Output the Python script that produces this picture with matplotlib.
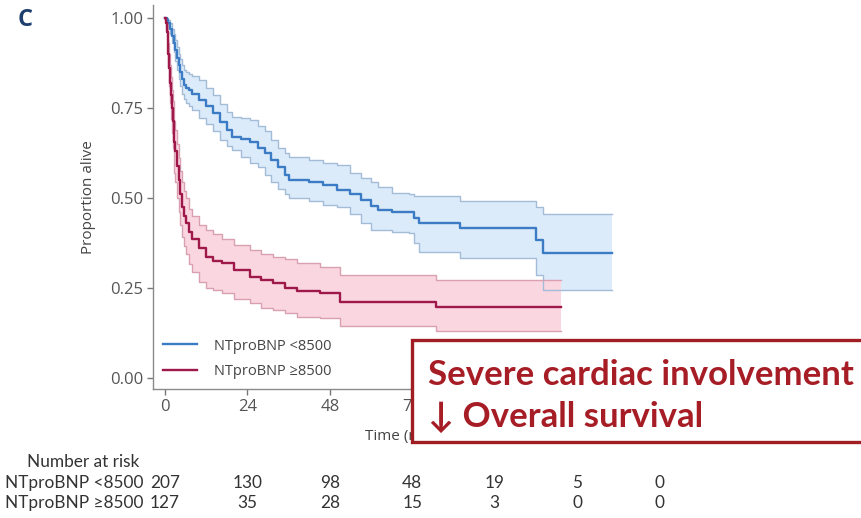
import matplotlib
matplotlib.use("Agg")
import matplotlib.pyplot as plt
from matplotlib.patches import Rectangle

# Kaplan-Meier estimates (months, proportion alive) with 95% CI bounds
low_time = [0, 0.5, 1, 1.5, 2, 2.5, 3, 3.5, 4, 4.5, 5, 5.5, 6, 7, 8, 10, 12, 14, 16, 18, 19.5,
            22, 24.7, 27, 29, 31, 33, 35, 36, 42, 46, 50, 54, 57, 60, 62, 66, 71, 72.5, 74,
            86, 108, 110, 130.3]
low_est = [1.0, 0.995, 0.985, 0.97, 0.95, 0.93, 0.91, 0.89, 0.87, 0.85, 0.83, 0.815, 0.805,
           0.80, 0.79, 0.772, 0.755, 0.735, 0.71, 0.69, 0.67, 0.664, 0.656, 0.64, 0.625,
           0.606, 0.585, 0.565, 0.55, 0.545, 0.535, 0.522, 0.51, 0.494, 0.478, 0.467, 0.462,
           0.462, 0.445, 0.43, 0.416, 0.383, 0.348, 0.348]
low_lo = [1.0, 0.99, 0.975, 0.955, 0.93, 0.905, 0.88, 0.855, 0.83, 0.81, 0.79, 0.775, 0.765,
          0.755, 0.745, 0.722, 0.705, 0.685, 0.66, 0.645, 0.633, 0.615, 0.597, 0.585, 0.565,
          0.545, 0.525, 0.51, 0.50, 0.49, 0.48, 0.476, 0.455, 0.43, 0.411, 0.41, 0.405,
          0.402, 0.375, 0.351, 0.332, 0.286, 0.244, 0.244]
low_hi = [1.0, 1.0, 0.995, 0.985, 0.97, 0.955, 0.94, 0.92, 0.90, 0.885, 0.868, 0.856, 0.85,
          0.845, 0.84, 0.828, 0.805, 0.785, 0.76, 0.74, 0.726, 0.722, 0.717, 0.70, 0.685,
          0.661, 0.64, 0.625, 0.615, 0.605, 0.598, 0.592, 0.57, 0.555, 0.545, 0.53, 0.515,
          0.51, 0.505, 0.504, 0.49, 0.475, 0.455, 0.455]

high_time = [0, 0.25, 0.5, 0.75, 1, 1.25, 1.5, 1.75, 2, 2.25, 2.5, 2.75, 3, 3.5, 4, 4.5, 5,
             5.5, 6, 7, 8, 10, 12, 14, 16.5, 20, 24.7, 28, 31.4, 35, 38.3, 45, 50.9, 79, 115.3]
high_est = [1.0, 0.985, 0.96, 0.93, 0.90, 0.86, 0.82, 0.785, 0.75, 0.715, 0.68, 0.655, 0.63,
            0.59, 0.55, 0.51, 0.475, 0.45, 0.43, 0.405, 0.385, 0.36, 0.337, 0.325, 0.319,
            0.30, 0.281, 0.272, 0.263, 0.25, 0.24, 0.235, 0.212, 0.198, 0.198]
high_lo = [1.0, 0.975, 0.94, 0.90, 0.86, 0.81, 0.765, 0.72, 0.68, 0.64, 0.60, 0.57, 0.545,
           0.50, 0.46, 0.425, 0.39, 0.365, 0.345, 0.315, 0.295, 0.265, 0.25, 0.245, 0.235,
           0.22, 0.207, 0.195, 0.188, 0.18, 0.17, 0.166, 0.143, 0.129, 0.129]
high_hi = [1.0, 0.995, 0.98, 0.955, 0.93, 0.90, 0.87, 0.835, 0.80, 0.77, 0.745, 0.715, 0.69,
           0.65, 0.61, 0.575, 0.545, 0.52, 0.50, 0.47, 0.45, 0.425, 0.41, 0.40, 0.385, 0.37,
           0.356, 0.345, 0.337, 0.33, 0.32, 0.309, 0.286, 0.272, 0.272]

group_labels = ["NTproBNP <8500", "NTproBNP \u22658500"]
risk_times = [0, 24, 48, 72, 96, 120, 144]
risk_low = [207, 130, 98, 48, 19, 5, 0]
risk_high = [127, 35, 28, 15, 3, 0, 0]
y_ticks = [0.0, 0.25, 0.50, 0.75, 1.00]

BLUE = "#3c7cc4"
BLUE_FILL = "#dcebfa"
BLUE_EDGE = "#a3bcd8"
RED = "#9e1849"
RED_FILL = "#fad6e1"
RED_EDGE = "#d9a0b2"
GRAY = "#555555"

plt.rcParams["font.family"] = ["Open Sans", "DejaVu Sans"]

fig = plt.figure(figsize=(8.62, 5.18), dpi=100)
ax = fig.add_axes([153 / 862, 1 - 389 / 518, (680 - 153) / 862, (389 - 5) / 518])


def km(ax, t, est, lo, hi, color, fill, edge, label):
    ax.fill_between(t, lo, hi, step="post", color=fill, lw=0, zorder=1)
    ax.step(t, lo, where="post", color=edge, lw=1.0, zorder=2)
    ax.step(t, hi, where="post", color=edge, lw=1.0, zorder=2)
    ax.step(t, est, where="post", color=color, lw=1.7, zorder=3, label=label)


km(ax, low_time, low_est, low_lo, low_hi, BLUE, BLUE_FILL, BLUE_EDGE, group_labels[0])
km(ax, high_time, high_est, high_lo, high_hi, RED, RED_FILL, RED_EDGE, group_labels[1])

ax.set_xlim(-3.5, 150)
ax.set_ylim(-0.031, 1.036)
ax.set_xticks(risk_times)
ax.set_yticks(y_ticks)
ax.set_yticklabels([f"{v:.2f}" for v in y_ticks])
ax.tick_params(colors="#777777", labelcolor=GRAY, labelsize=12, length=4, width=1.0, pad=3)
for s in ["top", "right"]:
    ax.spines[s].set_visible(False)
for s in ["left", "bottom"]:
    ax.spines[s].set_color("#8a8a8a")
    ax.spines[s].set_linewidth(1.0)
ax.set_ylabel("Proportion alive", fontsize=11, color="#444444", labelpad=10)
ax.set_xlabel("Time (months)", fontsize=11, color="#444444", labelpad=10)

leg = ax.legend(loc="lower left", bbox_to_anchor=(0.0, 0.0), frameon=True,
                fontsize=10.5, handlelength=2.3, handletextpad=1.2, labelspacing=0.7,
                borderaxespad=0.3)
leg.get_frame().set_edgecolor("none")
leg.get_frame().set_facecolor("white")
leg.get_frame().set_alpha(1.0)
for txt in leg.get_texts():
    txt.set_color("#444444")

# panel letter
fig.text(18 / 862, 1 - 20 / 518, "C", fontsize=17, fontweight="bold", color="#1d3f6e",
         ha="left", va="center")

# number-at-risk table
tfont = ["Lato", "DejaVu Sans"]
fig.text(83 / 862, 1 - 462 / 518, "Number at risk", fontsize=12.4, color="#333333",
         ha="center", va="center", family=tfont)
for row_y, lab, vals in [(483, group_labels[0], risk_low), (503, group_labels[1], risk_high)]:
    fig.text(5 / 862, 1 - row_y / 518, lab, fontsize=12.4, color="#333333",
             ha="left", va="center", family=tfont)
    for t, v in zip(risk_times, vals):
        xd = ax.transData.transform((t, 0))[0]
        fig.text(xd / 862, 1 - row_y / 518, str(v), fontsize=12.4, color="#333333",
                 ha="center", va="center", family=tfont)

# callout box
box = Rectangle((412 / 862, 1 - 442 / 518), 0.6, 102 / 518, transform=fig.transFigure,
                facecolor="white", edgecolor="#a11d24", linewidth=2.4, zorder=10)
fig.patches.append(box)
fig.text(428 / 862, 1 - 375 / 518, "Severe cardiac involvement", fontsize=25,
         fontweight="bold", color="#a61d26", ha="left", va="center", family=tfont, zorder=11)
fig.text(428 / 862, 1 - 417 / 518, "\u2193 Overall survival", fontsize=25,
         fontweight="bold", color="#a61d26", ha="left", va="center", family=tfont, zorder=11)

fig.savefig("out.png", dpi=100)
